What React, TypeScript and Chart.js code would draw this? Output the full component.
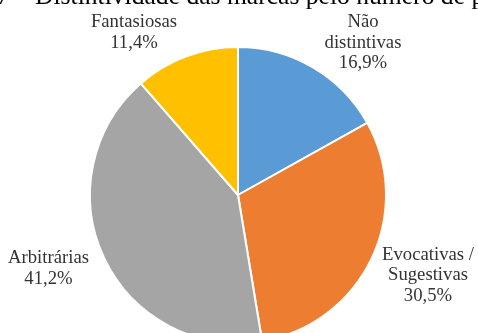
import React, { useEffect, useRef } from "react";
import { Chart, registerables } from "chart.js";

Chart.register(...registerables);

const titleText = "Gráfico 7 – Distintividade das marcas pelo número de pedidos";
const categories = ["Não distintivas", "Evocativas / Sugestivas", "Arbitrárias", "Fantasiosas"];
const labelLines = [["Não", "distintivas"], ["Evocativas /", "Sugestivas"], ["Arbitrárias"], ["Fantasiosas"]];
const values = [16.9, 30.5, 41.2, 11.4];
const valueLabels = ["16,9%", "30,5%", "41,2%", "11,4%"];
const colors = ["#5B9BD5", "#ED7D31", "#A5A5A5", "#FFC000"];

// label anchor offsets (centre x, first baseline y) relative to the pie centre
const labelOffsets = [
  { dx: 125, dy: -168 },
  { dx: 190, dy: 64.5 },
  { dx: -189.5, dy: 68 },
  { dx: -104, dy: -168 },
];

const FONT = "'Liberation Serif', 'Times New Roman', serif";

const labelPlugin = {
  id: "outerLabels",
  afterDraw(chart: any) {
    const ctx = chart.ctx;
    const meta = chart.getDatasetMeta(0);
    ctx.save();
    // title (cropped at the top in the reference)
    ctx.font = `25.6px ${FONT}`;
    ctx.fillStyle = "#000000";
    ctx.textAlign = "left";
    ctx.textBaseline = "alphabetic";
    const prefixW = ctx.measureText("Gráfico 7 – ").width;
    ctx.fillText(titleText, 35 - prefixW, 4);

    ctx.font = `18.7px ${FONT}`;
    ctx.fillStyle = "#333333";
    ctx.textAlign = "center";
    meta.data.forEach((arc: any, i: number) => {
      const cx = arc.x + labelOffsets[i].dx;
      let y = arc.y + labelOffsets[i].dy;
      const lines = [...labelLines[i], valueLabels[i]];
      lines.forEach((ln) => {
        ctx.fillText(ln, cx, y);
        y += 20.5;
      });
    });
    ctx.restore();
  },
};

export default function App() {
  const ref = useRef<HTMLCanvasElement | null>(null);
  useEffect(() => {
    if (!ref.current) return;
    const chart = new Chart(ref.current, {
      type: "pie",
      data: {
        labels: categories,
        datasets: [
          {
            data: values,
            backgroundColor: colors,
            borderColor: "#FFFFFF",
            borderWidth: 2,
          },
        ],
      },
      options: {
        responsive: false,
        animation: false,
        layout: { padding: { top: 46, bottom: 56, left: 89, right: 91 } },
        plugins: {
          legend: { display: false },
          tooltip: { enabled: false },
          title: { display: false },
        },
      },
      plugins: [labelPlugin],
    });
    return () => chart.destroy();
  }, []);
  return (
    <div
      style={{
        position: "fixed",
        left: 0,
        top: 0,
        width: 478,
        height: 333,
        overflow: "hidden",
        background: "#FFFFFF",
      }}
    >
      <canvas ref={ref} width={478} height={400} style={{ display: "block", width: 478, height: 400 }} />
    </div>
  );
}
